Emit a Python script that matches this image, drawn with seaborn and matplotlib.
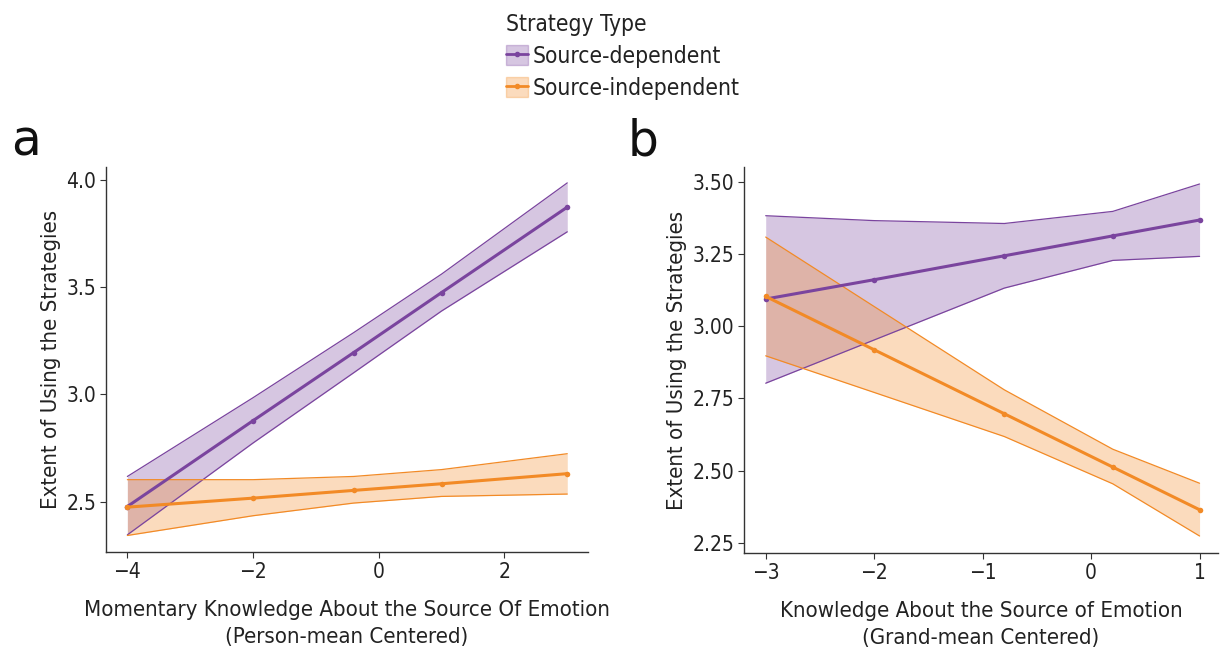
import numpy as np
import pandas as pd
import matplotlib
matplotlib.use("Agg")
import matplotlib.pyplot as plt
import matplotlib.font_manager as fm
import seaborn as sns
from matplotlib.lines import Line2D
from matplotlib.patches import Patch
from matplotlib.legend_handler import HandlerTuple

# ---------------- data ----------------
strategies = ["Source-dependent", "Source-independent"]

# Panel a
xa = [-4, -2, -0.4, 1, 3]
a_dep = [2.478, 2.878, 3.195, 3.475, 3.873]
a_dep_lo = [2.346, 2.774, 3.101, 3.389, 3.758]
a_dep_hi = [2.618, 2.985, 3.288, 3.561, 3.986]
a_ind = [2.475, 2.517, 2.553, 2.584, 2.631]
a_ind_lo = [2.343, 2.435, 2.494, 2.525, 2.536]
a_ind_hi = [2.603, 2.603, 2.618, 2.650, 2.724]

# Panel b
xb = [-3, -2, -0.8, 0.2, 1]
b_dep = [3.095, 3.162, 3.245, 3.314, 3.369]
b_dep_lo = [2.803, 2.953, 3.133, 3.229, 3.243]
b_dep_hi = [3.384, 3.367, 3.357, 3.399, 3.494]
b_ind = [3.104, 2.919, 2.697, 2.512, 2.364]
b_ind_lo = [2.898, 2.771, 2.618, 2.454, 2.273]
b_ind_hi = [3.310, 3.069, 2.780, 2.574, 2.456]

a_xticks = [-4, -2, 0, 2]
a_yticks = [2.5, 3.0, 3.5, 4.0]
b_xticks = [-3, -2, -1, 0, 1]
b_yticks = [2.25, 2.50, 2.75, 3.00, 3.25, 3.50]

# ---------------- style ----------------
sns.set_theme(style="white")

names = {f.name for f in fm.fontManager.ttflist}
cond = [f for f in fm.fontManager.ttflist
        if f.name == "DejaVu Sans" and str(f.stretch) in ("condensed", "semi-condensed", "600", "500")]
if "Liberation Sans Narrow" in names:
    fam = ["Liberation Sans Narrow", "DejaVu Sans"]
    stretch = "normal"
    sc = 1.0
elif cond:
    fam = ["DejaVu Sans"]
    stretch = "condensed"
    sc = 0.94
else:
    fam = ["Roboto", "DejaVu Sans"]
    stretch = "normal"
    sc = 0.95
plt.rcParams["font.family"] = fam
plt.rcParams["font.stretch"] = stretch
plt.rcParams["axes.unicode_minus"] = True

FS = 17 * sc
TS = 16 * sc

purple = "#7A449E"
orange = "#F28A26"
palette = {strategies[0]: purple, strategies[1]: orange}

fig = plt.figure(figsize=(12.21, 6.53), dpi=100)
W, H = 1221, 653
def rect(l, t, r, b):
    return [l / W, 1 - b / H, (r - l) / W, (b - t) / H]

axa = fig.add_axes(rect(106, 167, 588, 552))
axb = fig.add_axes(rect(744, 167, 1218, 553))

def draw(ax, x, dep, dep_lo, dep_hi, ind, ind_lo, ind_hi):
    df = pd.DataFrame({
        "x": list(x) * 2,
        "y": list(dep) + list(ind),
        "Strategy Type": [strategies[0]] * len(x) + [strategies[1]] * len(x),
    })
    for lo, hi, c in [(dep_lo, dep_hi, purple), (ind_lo, ind_hi, orange)]:
        ax.fill_between(x, lo, hi, color=c, alpha=0.3, linewidth=0)
        ax.plot(x, lo, color=c, lw=0.9)
        ax.plot(x, hi, color=c, lw=0.9)
    sns.lineplot(data=df, x="x", y="y", hue="Strategy Type", palette=palette,
                 marker="o", markersize=4, markeredgewidth=0, linewidth=2.2,
                 ax=ax, legend=False)
    sns.despine(ax=ax)
    for s in ["left", "bottom"]:
        ax.spines[s].set_color("#333333")
        ax.spines[s].set_linewidth(1.0)
    ax.tick_params(axis="both", which="both", direction="out", length=4,
                   width=0.8, color="#333333", labelsize=TS, labelcolor="#222222",
                   left=True, bottom=True, pad=3)
    ax.set_ylabel("Extent of Using the Strategies", fontsize=FS, color="#222222")

draw(axa, xa, a_dep, a_dep_lo, a_dep_hi, a_ind, a_ind_lo, a_ind_hi)
draw(axb, xb, b_dep, b_dep_lo, b_dep_hi, b_ind, b_ind_lo, b_ind_hi)

axa.set_xlim(-4.34, 3.33)
axa.set_ylim(2.266, 4.06)
axa.set_xticks(a_xticks)
axa.set_yticks(a_yticks)
axa.set_yticklabels([f"{v:.1f}" for v in a_yticks])
axa.set_xlabel("Momentary Knowledge About the Source Of Emotion\n(Person-mean Centered)",
               fontsize=FS, color="#222222", labelpad=13, linespacing=1.45)

axb.set_xlim(-3.2, 1.17)
axb.set_ylim(2.214, 3.553)
axb.set_xticks(b_xticks)
axb.set_yticks(b_yticks)
axb.set_yticklabels([f"{v:.2f}" for v in b_yticks])
axb.set_xlabel("Knowledge About the Source of Emotion\n(Grand-mean Centered)",
               fontsize=FS, color="#222222", labelpad=13, linespacing=1.45)

fig.text(11 / W, 1 - 155 / H, "a", fontsize=35, color="#111111", fontstretch="normal")
fig.text(628 / W, 1 - 155 / H, "b", fontsize=35, color="#111111", fontstretch="normal")

handles = []
for s in strategies:
    c = palette[s]
    handles.append((Patch(facecolor=c, alpha=0.3, edgecolor=c, linewidth=1),
                    Line2D([], [], color=c, lw=2, marker="o", markersize=3)))
leg = fig.legend(handles, strategies, title="Strategy Type",
                 handler_map={tuple: HandlerTuple(ndivide=1, pad=0)},
                 loc="upper center", bbox_to_anchor=(0.51, 1.012), frameon=False,
                 fontsize=FS * 1.02, title_fontsize=FS * 1.02, handlelength=1.0,
                 handleheight=1.0, handletextpad=0.2, labelspacing=0.4,
                 alignment="left")
for t in leg.get_texts():
    t.set_color("#222222")
leg.get_title().set_color("#222222")

fig.savefig("out.png", dpi=100)
